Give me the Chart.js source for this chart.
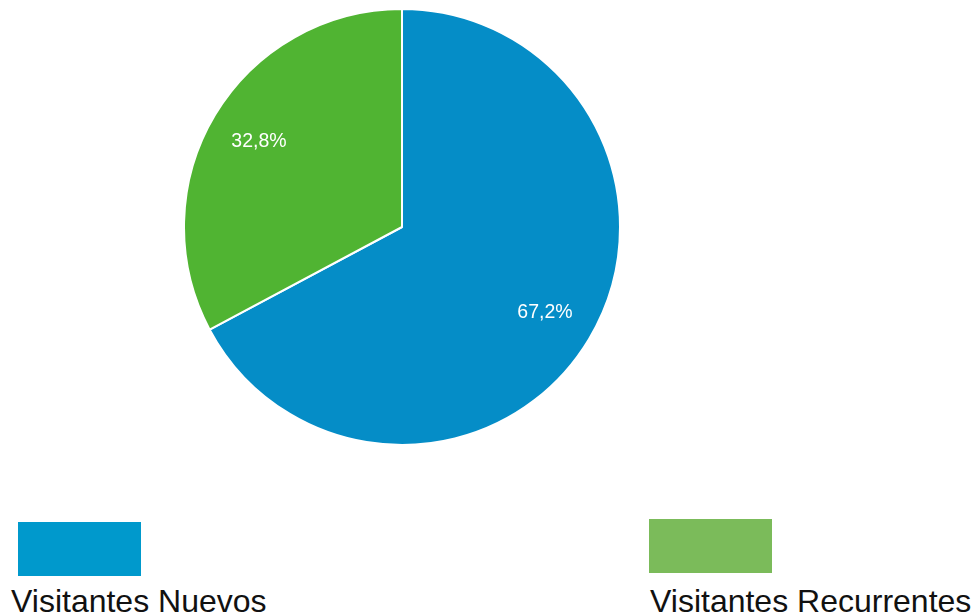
<!DOCTYPE html>
<html><head><meta charset="utf-8">
<script src="https://cdn.jsdelivr.net/npm/chart.js@4/dist/chart.umd.min.js"></script>
<style>
html,body{margin:0;padding:0;background:#fff;width:973px;height:613px;overflow:hidden;position:relative;font-family:"Liberation Sans",Arial,sans-serif;}
#wrap{position:absolute;left:183px;top:8px;width:438px;height:438px;}
.leg{position:absolute;}
.leg .box{position:absolute;width:123px;height:54px;}
.leg .txt{position:absolute;white-space:nowrap;font-size:32px;color:#111;line-height:1;}
</style></head>
<body>
<div id="wrap"><canvas id="c"></canvas></div>
<div id="legend"></div>
<script>
const categories = ["Visitantes Nuevos", "Visitantes Recurrentes"];
const values = [67.2, 32.8];
const valueLabels = ["67,2%", "32,8%"];
const sliceColors = ["#058DC7", "#50B432"];
const legendColors = ["#0099CC", "#7BBB5A"];

const labelPlugin = {
  id: 'sliceLabels',
  afterDatasetsDraw(chart) {
    const ctx = chart.ctx;
    const meta = chart.getDatasetMeta(0);
    ctx.save();
    ctx.fillStyle = '#ffffff';
    ctx.font = '19.5px "Liberation Sans", Arial, sans-serif';
    ctx.textAlign = 'center';
    ctx.textBaseline = 'middle';
    meta.data.forEach((arc, i) => {
      const p = arc.getProps(['x','y','startAngle','endAngle','outerRadius'], true);
      const mid = (p.startAngle + p.endAngle) / 2;
      const r = p.outerRadius * 0.765;
      ctx.fillText(valueLabels[i], p.x + Math.cos(mid) * r, p.y + Math.sin(mid) * r);
    });
    ctx.restore();
  }
};

new Chart(document.getElementById('c'), {
  type: 'pie',
  data: {
    labels: categories,
    datasets: [{
      data: values,
      backgroundColor: sliceColors,
      borderColor: '#ffffff',
      borderWidth: 2
    }]
  },
  options: {
    responsive: true,
    maintainAspectRatio: false,
    animation: false,
    layout: { padding: 0 },
    plugins: { legend: { display: false }, tooltip: { enabled: false } }
  },
  plugins: [labelPlugin]
});

const legendPos = [
  { box: [18, 522], txt: [11, 585] },
  { box: [649, 519], txt: [650, 585] }
];
const legend = document.getElementById('legend');
categories.forEach((name, i) => {
  const b = document.createElement('div');
  b.className = 'leg';
  b.style.left = '0px'; b.style.top = '0px';
  const box = document.createElement('div');
  box.className = 'box';
  box.style.left = legendPos[i].box[0] + 'px';
  box.style.top = legendPos[i].box[1] + 'px';
  box.style.background = legendColors[i];
  const t = document.createElement('div');
  t.className = 'txt';
  t.style.left = legendPos[i].txt[0] + 'px';
  t.style.top = legendPos[i].txt[1] + 'px';
  t.textContent = name;
  b.appendChild(box); b.appendChild(t);
  legend.appendChild(b);
});
</script>
</body></html>
